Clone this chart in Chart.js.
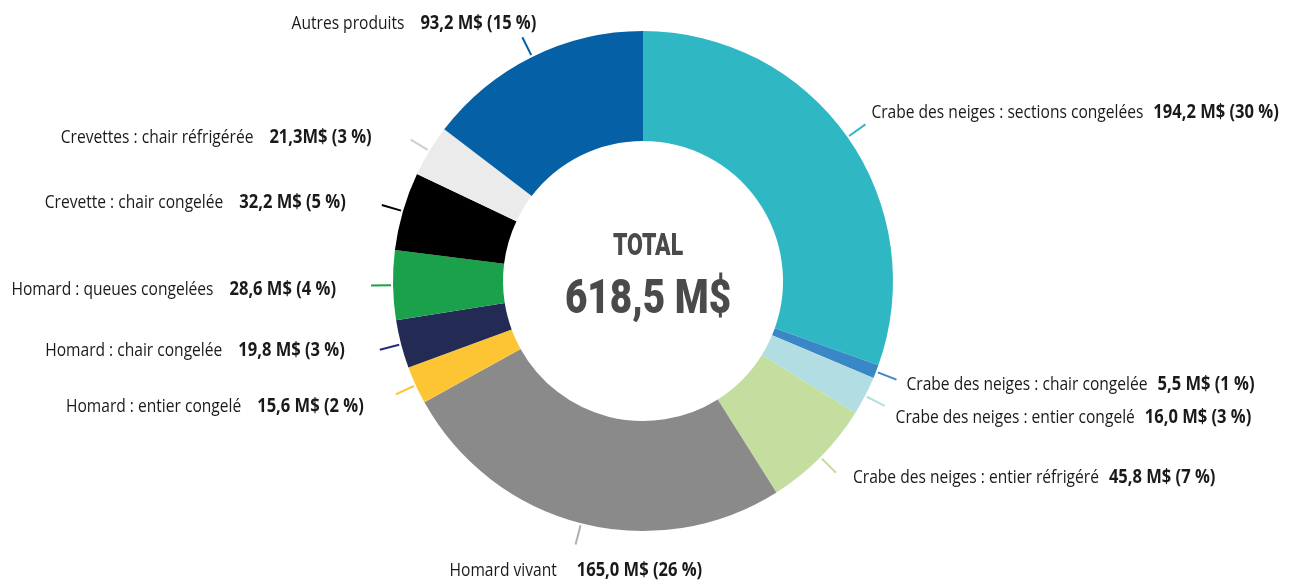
<!DOCTYPE html>
<html>
<head>
<meta charset="utf-8">
<script src="https://cdn.jsdelivr.net/npm/chart.js@4.4.1/dist/chart.umd.min.js"></script>
<style>
html,body{margin:0;padding:0;background:#fff;}
#wrap{width:1290px;height:581px;position:relative;}
</style>
</head>
<body>
<div id="wrap"><canvas id="c" width="1290" height="581"></canvas></div>
<script>
// ---- data ----
const categories = [
  "Crabe des neiges : sections congelées",
  "Crabe des neiges : chair congelée",
  "Crabe des neiges : entier congelé",
  "Crabe des neiges : entier réfrigéré",
  "Homard vivant",
  "Homard : entier congelé",
  "Homard : chair congelée",
  "Homard : queues congelées",
  "Crevette : chair congelée",
  "Crevettes : chair réfrigérée",
  "Autres produits"
];
const values = [194.2, 5.5, 16.0, 45.8, 165.0, 15.6, 19.8, 28.6, 32.2, 21.3, 93.2];
const valueLabels = [
  "194,2 M$ (30 %)", "5,5 M$ (1 %)", "16,0 M$ (3 %)", "45,8 M$ (7 %)",
  "165,0 M$ (26 %)", "15,6 M$ (2 %)", "19,8 M$ (3 %)", "28,6 M$ (4 %)",
  "32,2 M$ (5 %)", "21,3M$ (3 %)", "93,2 M$ (15 %)"
];
const totalTitle = "TOTAL";
const totalLabel = "618,5 M$";

// ---- styles ----
const colors = ["#2fb8c3","#3a87c8","#b2dde3","#c4dea0","#8a8a8a","#fdc533","#232a54","#1ba14b","#000000","#ebebeb","#0660a6"];
const leaderColors = ["#2fb8c3","#3a87c8","#b2dde3","#c4dea0","#b0b0b0","#fdc533","#2b2d7a","#1ba14b","#000000","#cfcfcf","#0660a6"];
// label placement relative to leader end: [dx, dyBaseline, align, gap]
const labelLayout = [
  [6,-6,"left",10],[10,10,"left",10],[11,17,"left",10],[17,10,"left",10],
  [-126,31,"left",20],
  [-32,18,"right",16],[-35,6,"right",16],[-35,9,"right",16],[-36,3,"right",16],[-39,3,"right",16],
  [14,-8,"right",16]
];
const FONT = "'Open Sans','Noto Sans',sans-serif";
const CFONT = "Roboto,'Liberation Sans',sans-serif";
const labelSize = 19;
const sxNormal = 0.82, sxBold = 0.87;

function drawScaled(ctx, text, x, y, sx) {
  ctx.save();
  ctx.translate(x, y);
  ctx.scale(sx, 1);
  ctx.fillText(text, 0, 0);
  ctx.restore();
}

const labelPlugin = {
  id: 'labels',
  afterDraw(chart) {
    const ctx = chart.ctx;
    const meta = chart.getDatasetMeta(0);
    ctx.save();
    meta.data.forEach((arc, i) => {
      const p = arc.getProps(['x','y','startAngle','endAngle','outerRadius'], true);
      const mid = (p.startAngle + p.endAngle) / 2;
      const r1 = p.outerRadius + 2, r2 = p.outerRadius + 22;
      const x1 = p.x + Math.cos(mid) * r1, y1 = p.y + Math.sin(mid) * r1;
      const x2 = p.x + Math.cos(mid) * r2, y2 = p.y + Math.sin(mid) * r2;
      ctx.strokeStyle = leaderColors[i];
      ctx.lineWidth = 2;
      ctx.beginPath(); ctx.moveTo(x1, y1); ctx.lineTo(x2, y2); ctx.stroke();

      const [dx, dy, align, gap] = labelLayout[i];
      const fn = "normal " + labelSize + "px " + FONT;
      const fb = "bold " + labelSize + "px " + FONT;
      ctx.font = fn; const wn = ctx.measureText(categories[i]).width * sxNormal;
      ctx.font = fb; const wb = ctx.measureText(valueLabels[i]).width * sxBold;
      const total = wn + gap + wb;
      let left = x2 + dx;
      if (align === "right") left = x2 + dx - total;
      else if (align === "center") left = x2 + dx - total / 2;
      const ty = y2 + dy;
      ctx.textBaseline = "alphabetic";
      ctx.textAlign = "left";
      ctx.fillStyle = "#1a1a1a";
      ctx.font = fn; drawScaled(ctx, categories[i], left, ty, sxNormal);
      ctx.font = fb; drawScaled(ctx, valueLabels[i], left + wn + gap, ty, sxBold);
    });
    // center text
    const a = meta.data[0];
    ctx.fillStyle = "#4a4a4a";
    ctx.textAlign = "center";
    ctx.textBaseline = "alphabetic";
    ctx.font = "900 31px " + CFONT;
    drawScaled(ctx, totalTitle, a.x + 5, 255, 0.74);
    ctx.font = "900 49px " + CFONT;
    drawScaled(ctx, totalLabel, a.x + 5, 313, 0.79);
    ctx.restore();
  }
};

new Chart(document.getElementById('c'), {
  type: 'doughnut',
  data: {
    labels: categories,
    datasets: [{ data: values, backgroundColor: colors, borderWidth: 0 }]
  },
  options: {
    responsive: false,
    animation: false,
    cutout: '56%',
    layout: { padding: { top: 31, bottom: 50, left: 0, right: 4 } },
    plugins: { legend: { display: false }, tooltip: { enabled: false } }
  },
  plugins: [labelPlugin]
});
</script>
</body>
</html>
